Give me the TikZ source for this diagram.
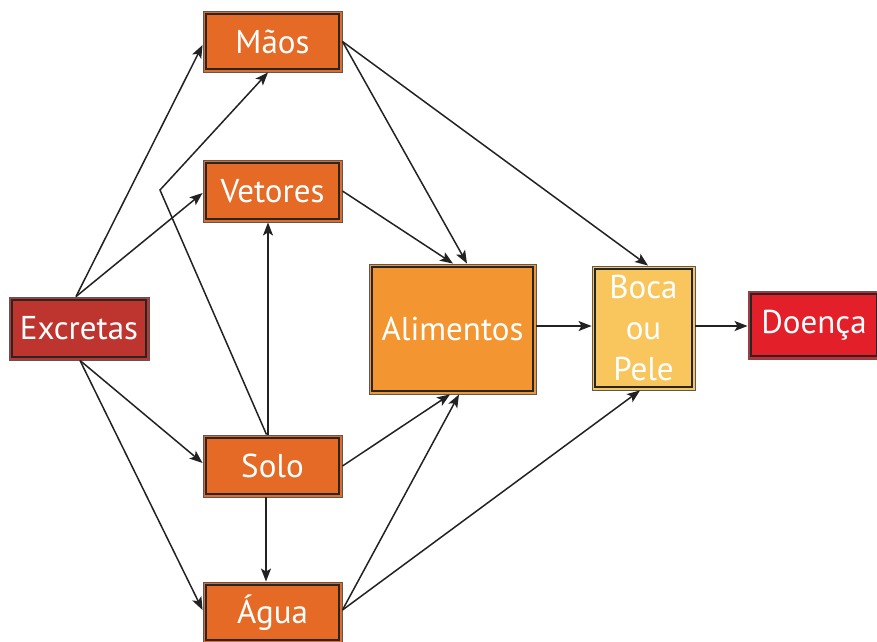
\documentclass[tikz,border=0pt]{standalone}
\usepackage{fontspec}
\setmainfont{PT Sans}
\usetikzlibrary{arrows.meta}
\definecolor{cexc}{HTML}{BE3530}
\definecolor{corg}{HTML}{E46A25}
\definecolor{cali}{HTML}{F39631}
\definecolor{cboc}{HTML}{F8C65C}
\definecolor{cdoe}{HTML}{E31F2A}
\definecolor{cline}{HTML}{222222}
\tikzset{
  box/.style={draw=black!65, line width=0.9pt, inner sep=0pt, text=white,
    font=\fontsize{33}{41}\selectfont, align=center,
    path picture={\draw[line width=1.6pt, black!85]
      ([shift={(3.2pt,3.2pt)}]path picture bounding box.south west) rectangle
      ([shift={(-3.2pt,-3.2pt)}]path picture bounding box.north east);}},
  arr/.style={draw=cline, line width=1.5pt, -{Stealth[length=13pt,width=10pt,inset=3pt]}},
}
\begin{document}
\begin{tikzpicture}[x=1pt,y=-1pt]
\useasboundingbox (0,0) rectangle (877,641);
\node[box, fill=cexc, minimum width=140pt, minimum height=63pt] (exc) at (79,328.5) {Excretas};
\node[box, fill=corg, minimum width=139pt, minimum height=61pt] (mao) at (272.5,41.5) {Mãos};
\node[box, fill=corg, minimum width=139pt, minimum height=62pt] (vet) at (272.5,191) {Vetores};
\node[box, fill=corg, minimum width=139pt, minimum height=62pt] (solo) at (272.5,466) {Solo};
\node[box, fill=corg, minimum width=139pt, minimum height=61pt] (agua) at (272.5,612.5) {Água};
\node[box, fill=cali, minimum width=167pt, minimum height=130pt] (ali) at (452.5,329) {Alimentos};
\node[box, fill=cboc, minimum width=103pt, minimum height=124pt] (boca) at (643.5,328) {Boca\\ou\\Pele};
\node[box, fill=cdoe, minimum width=132pt, minimum height=68pt] (doe) at (814,325) {Doença};
\coordinate (bend) at (160,190);

\draw[arr] ([xshift=-3pt]exc.north) -- ([yshift=-3.5pt]mao.west);
\draw[arr] ([xshift=-3pt]exc.north) -- ([yshift=-2pt]vet.west);
\draw[arr] ([xshift=1pt]exc.south) -- ([yshift=3pt]solo.west);
\draw[arr] ([xshift=1pt]exc.south) -- ([yshift=2.5pt]agua.west);
\draw[arr] ([xshift=-4.5pt]solo.north) -- ([xshift=-4.5pt]vet.south);
\draw[arr] ([xshift=-6pt]solo.north) -- (bend) -- ([xshift=-4.5pt]mao.south);
\draw[arr] ([xshift=-6.5pt]solo.south) -- ([xshift=-6.5pt]agua.north);
\draw[arr] (mao.east) -- ([xshift=14.5pt]ali.north);
\draw[arr] (mao.east) -- ([xshift=4.5pt]boca.north);
\draw[arr] (vet.east) -- ([xshift=0.5pt]ali.north);
\draw[arr] (solo.east) -- ([xshift=-2.5pt]ali.south);
\draw[arr] ([yshift=2.5pt]agua.east) -- ([xshift=6.5pt]ali.south);
\draw[arr] ([yshift=2.5pt]agua.east) -- ([xshift=-3.5pt]boca.south);
\draw[arr] ([yshift=3pt]ali.east) -- ([yshift=2pt]boca.west);
\draw[arr] ([yshift=2pt]boca.east) -- ([yshift=-1pt]doe.west);
\end{tikzpicture}
\end{document}
